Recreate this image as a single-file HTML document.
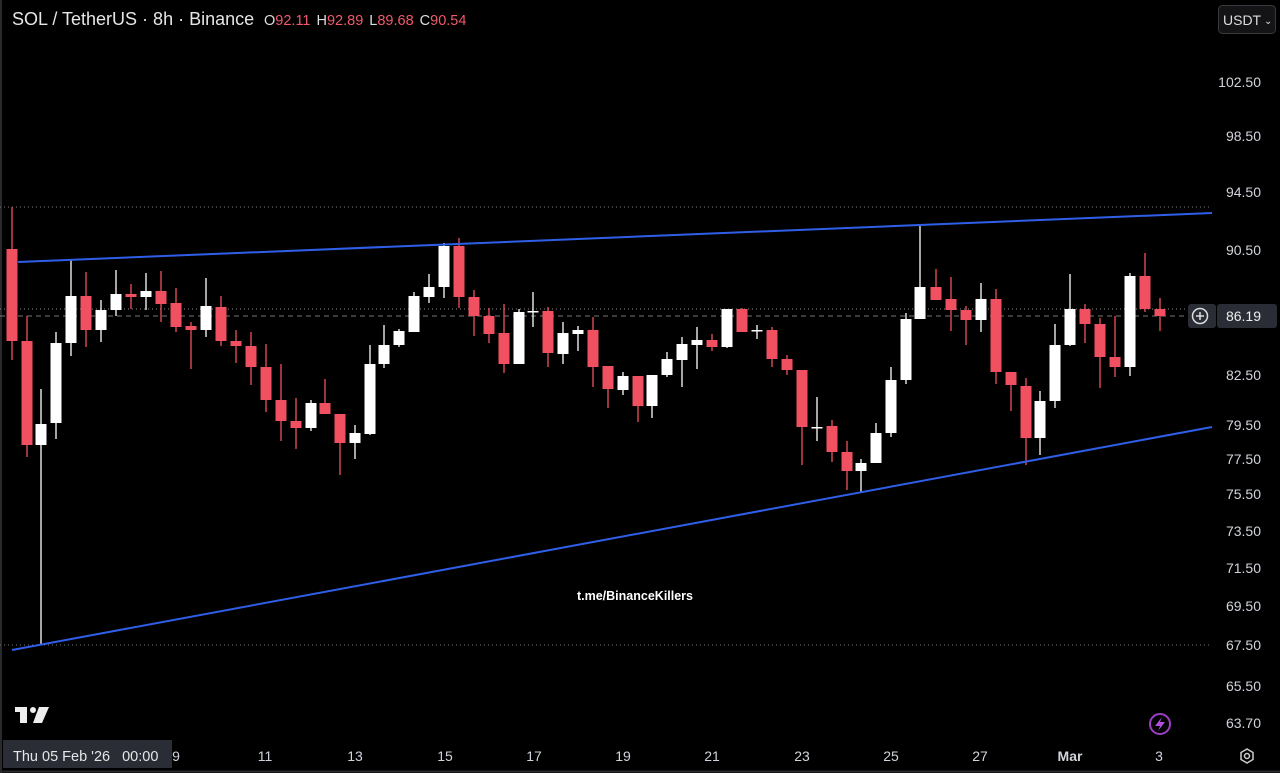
<!DOCTYPE html>
<html><head><meta charset="utf-8"><style>
html,body{margin:0;padding:0;background:#000;}
body{width:1280px;height:773px;overflow:hidden;position:relative;font-family:"Liberation Sans",sans-serif;}
svg{position:absolute;left:0;top:0;}
</style></head><body>
<svg id="s" width="1280" height="773" xmlns="http://www.w3.org/2000/svg">
<rect x="0" y="0" width="1280" height="773" fill="#000"/>
<line x1="1" y1="0" x2="1" y2="773" stroke="#2a2a2e" stroke-width="2"/>
<line x1="0" y1="771.5" x2="1280" y2="771.5" stroke="#2a2a2e" stroke-width="2"/>
<line x1="0" y1="207" x2="1212" y2="207" stroke="#777" stroke-dasharray="1 3"/>
<line x1="0" y1="645" x2="1212" y2="645" stroke="#777" stroke-dasharray="1 3"/>
<line x1="0" y1="309" x2="1212" y2="309" stroke="#888" stroke-dasharray="1 3"/>
<line x1="0" y1="316" x2="1190" y2="316" stroke="#777" stroke-dasharray="5 4"/>
<g id="c"></g>
<line x1="18" y1="262" x2="1212" y2="213" stroke="#2f5fe8" stroke-width="2"/>
<line x1="12" y1="650" x2="1212" y2="427" stroke="#2f5fe8" stroke-width="2"/>
<text x="12" y="25" fill="#e6e6e6" font-size="18">SOL / TetherUS · 8h · Binance</text>
<text x="264" y="25" font-size="14.5"><tspan fill="#ddd">O</tspan><tspan fill="#f05a6a">92.11</tspan><tspan fill="#ddd" dx="6">H</tspan><tspan fill="#f05a6a">92.89</tspan><tspan fill="#ddd" dx="6">L</tspan><tspan fill="#f05a6a">89.68</tspan><tspan fill="#ddd" dx="6">C</tspan><tspan fill="#f05a6a">90.54</tspan></text>
<rect x="1218.5" y="5.5" width="57" height="28" rx="4" fill="#141416" stroke="#3a3a3e"/>
<text x="1223" y="25" fill="#ddd" font-size="14">USDT</text>
<text x="1264" y="24" fill="#ddd" font-size="10">⌄</text>
<g fill="#d1d4dc" font-size="14" text-anchor="end">
<text x="1261" y="87">102.50</text><text x="1261" y="141">98.50</text><text x="1261" y="197">94.50</text>
<text x="1261" y="255">90.50</text><text x="1261" y="380">82.50</text><text x="1261" y="430">79.50</text>
<text x="1261" y="464">77.50</text><text x="1261" y="499">75.50</text><text x="1261" y="536">73.50</text>
<text x="1261" y="573">71.50</text><text x="1261" y="611">69.50</text><text x="1261" y="650">67.50</text>
<text x="1261" y="691">65.50</text><text x="1261" y="728">63.70</text>
</g>
<rect x="1188" y="304" width="28" height="24" rx="3" fill="#2a2d35"/>
<rect x="1217" y="304" width="60" height="24" rx="3" fill="#2a2d35"/>
<circle cx="1200" cy="316" r="7.5" fill="none" stroke="#ddd" stroke-width="1.5"/>
<line x1="1196" y1="316" x2="1204" y2="316" stroke="#ddd" stroke-width="1.5"/>
<line x1="1200" y1="312" x2="1200" y2="320" stroke="#ddd" stroke-width="1.5"/>
<text x="1261" y="321" fill="#eee" font-size="14" text-anchor="end">86.19</text>
<text x="635" y="600" fill="#fff" font-size="12.5" font-weight="bold" text-anchor="middle">t.me/BinanceKillers</text>
<g fill="#eee"><rect x="15" y="707" width="12" height="5"/><rect x="20" y="707" width="7" height="16"/><circle cx="33" cy="710" r="3"/><polygon points="39,707 49,707 42,723 33,723"/></g>
<rect x="3" y="740" width="169" height="28" fill="#2a2d35"/>
<text x="13" y="761" fill="#e6e6e6" font-size="14.5">Thu 05 Feb '26<tspan dx="12">00:00</tspan></text>
<g fill="#d1d4dc" font-size="14" text-anchor="middle">
<text x="176" y="761">9</text><text x="265" y="761">11</text><text x="355" y="761">13</text><text x="445" y="761">15</text>
<text x="534" y="761">17</text><text x="623" y="761">19</text><text x="712" y="761">21</text><text x="802" y="761">23</text>
<text x="891" y="761">25</text><text x="980" y="761">27</text><text x="1070" y="761" font-weight="bold">Mar</text><text x="1159" y="761">3</text>
</g>
<circle cx="1160" cy="724" r="10" fill="none" stroke="#9b3fc4" stroke-width="2"/>
<polygon points="1162,717 1155,726 1160,726 1158,731 1165,722 1160,722" fill="#b050e0"/>
<polygon points="1247,749 1253,752.5 1253,759.5 1247,763 1241,759.5 1241,752.5" fill="none" stroke="#ccc" stroke-width="1.5"/>
<circle cx="1247" cy="756" r="2.5" fill="none" stroke="#ccc" stroke-width="1.5"/>
</svg>
<script>
var d=[
[12,0,249,341,207,360],[27,0,341,445,316,457],[41,1,445,424,389,645],[56,1,423,343,332,439],[71,1,343,296,260,356],
[86,0,296,330,272,347],[101,1,330,310,300,342],[116,1,310,294,270,316],[131,0,294,297,284,309],[146,1,297,291,273,310],
[161,0,291,304,271,322],[176,0,303,327,288,332],[191,0,326,330,322,369],[206,1,330,306,278,337],[221,0,307,341,296,346],
[236,0,341,346,330,363],[251,0,346,367,332,385],[266,0,367,400,344,412],[281,0,400,421,364,441],[296,0,421,428,398,449],
[311,1,428,403,400,431],[325,0,403,414,379,414],[340,0,414,443,414,475],[355,1,443,433,425,459],[370,1,434,364,345,435],
[384,1,364,345,325,368],[399,1,345,331,329,347],[414,1,332,296,292,332],[429,1,297,287,274,303],[444,1,287,246,243,298],
[459,0,246,297,238,308],[474,0,297,316,290,336],[489,0,316,334,308,343],[504,0,333,364,304,373],[519,1,364,312,309,364],
[533,1,312,311,292,327],[548,0,311,353,307,367],[563,1,354,333,322,364],[578,1,334,330,326,351],[593,0,330,367,317,387],
[608,0,366,389,366,408],[623,1,390,376,372,395],[638,0,376,406,376,422],[652,1,406,375,375,418],[667,1,375,359,352,377],
[682,1,360,344,337,387],[697,1,345,340,327,369],[712,0,340,347,334,351],[727,1,347,309,309,348],[742,0,309,332,308,332],
[757,1,331,330,325,339],[772,0,330,359,327,367],[787,0,359,370,355,375],[802,0,370,427,370,465],[817,1,428,427,397,441],
[832,0,426,452,420,462],[847,0,452,471,441,490],[861,1,471,463,459,492],[876,1,463,433,423,463],[891,1,433,380,367,437],
[906,1,380,319,313,384],[920,1,319,287,226,319],[936,0,287,300,269,300],[951,0,299,310,277,331],[966,0,310,320,306,345],
[981,1,320,299,283,332],[996,0,299,372,289,384],[1011,0,372,385,372,411],[1026,0,386,438,378,465],[1040,1,438,401,391,455],
[1055,1,401,345,324,408],[1070,1,345,309,274,346],[1085,0,309,324,304,343],[1100,0,324,357,318,388],[1115,0,357,367,316,377],
[1130,1,367,276,273,376],[1145,0,276,309,253,312],[1160,0,309,316,298,331]];
var h='';
d.forEach(function(c){var col=c[1]?'#ffffff':'#f0505f';var t=Math.min(c[2],c[3]),b=Math.max(c[2],c[3]);var hh=Math.max(b-t,1.5);
h+='<line x1="'+c[0]+'" y1="'+c[4]+'" x2="'+c[0]+'" y2="'+c[5]+'" stroke="'+col+'" stroke-width="1.3"/>';
h+='<rect x="'+(c[0]-5.5)+'" y="'+t+'" width="11" height="'+hh+'" fill="'+col+'"/>';});
document.getElementById('c').innerHTML=h;
</script>
</body></html>
